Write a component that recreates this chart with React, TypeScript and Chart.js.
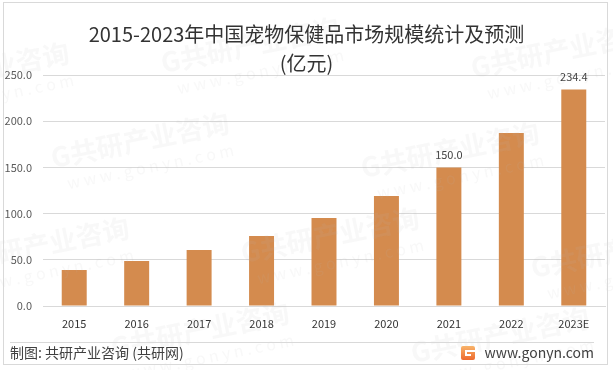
import React, { useEffect, useRef } from 'react';
import { Chart, registerables } from 'chart.js';

Chart.register(...registerables);

const categories = ['2015', '2016', '2017', '2018', '2019', '2020', '2021', '2022', '2023E'];
const marketSize = [39.0, 48.7, 60.6, 75.8, 95.2, 119.0, 150.0, 187.2, 234.4];
const labeledIndices = [6, 8];
const yMin = 0;
const yMax = 250;
const yStep = 50;
const titleLines = ['2015-2023年中国宠物保健品市场规模统计及预测', '(亿元)'];
const sourceText = '制图: 共研产业咨询 (共研网)';
const siteText = 'www.gonyn.com';
const watermarkMain = '共研产业咨询';
const watermarkSub = 'w w w . g o n y n . c o m';

const W = 613;
const H = 370;
const FONT = '"Noto Sans CJK SC", "Noto Sans", sans-serif';
const BAR_COLOR = '#D48B4E';
const GRID = '#d9d9d9';

const watermarkSpots: [number, number][] = [
  [250, 45], [560, 50], [-20, 70],
  [140, 140], [450, 150],
  [40, 245], [330, 235], [620, 250],
  [200, 330], [500, 335],
];

const decorPlugin = {
  id: 'decor',
  beforeDraw(chart: any) {
    const ctx = chart.ctx;
    ctx.save();
    ctx.fillStyle = '#ffffff';
    ctx.fillRect(0, 0, W, H);
    ctx.restore();
  },
  afterDatasetsDraw(chart: any) {
    const ctx = chart.ctx;
    const meta = chart.getDatasetMeta(0);
    ctx.save();
    ctx.font = `11px ${FONT}`;
    ctx.fillStyle = '#404040';
    ctx.textAlign = 'center';
    ctx.textBaseline = 'middle';
    labeledIndices.forEach((i) => {
      const el = meta.data[i];
      ctx.fillText(marketSize[i].toFixed(1), el.x, el.y - 13);
    });
    ctx.restore();
  },
  afterDraw(chart: any) {
    const ctx = chart.ctx;
    ctx.save();
    // watermarks
    watermarkSpots.forEach(([x, y]) => {
      ctx.save();
      ctx.translate(x, y);
      ctx.rotate(-0.2);
      ctx.fillStyle = 'rgba(190,190,190,0.1)';
      ctx.font = `bold 27px ${FONT}`;
      ctx.textAlign = 'center';
      ctx.textBaseline = 'middle';
      ctx.fillText('G' + watermarkMain, 0, 0);
      ctx.font = `16px ${FONT}`;
      ctx.fillText(watermarkSub, 5, 28);
      ctx.restore();
    });

    // title
    ctx.fillStyle = '#333333';
    ctx.textAlign = 'center';
    ctx.textBaseline = 'middle';
    ctx.font = `20px ${FONT}`;
    ctx.fillText(titleLines[0], W / 2, 34);
    ctx.fillText(titleLines[1], W / 2, 63);

    // frame
    ctx.strokeStyle = GRID;
    ctx.lineWidth = 1;
    ctx.strokeRect(3.5, 2.5, 604, 362);

    // separator
    ctx.beginPath();
    ctx.moveTo(10, 342.5);
    ctx.lineTo(594, 342.5);
    ctx.stroke();

    // footer
    ctx.fillStyle = '#404040';
    ctx.textAlign = 'left';
    ctx.font = `14px ${FONT}`;
    ctx.fillText(sourceText, 10, 353);

    ctx.textAlign = 'right';
    ctx.fillText(siteText, 594, 353);

    // logo
    const lx = 461, ly = 346, ls = 14;
    const g = ctx.createLinearGradient(lx, ly, lx, ly + ls);
    g.addColorStop(0, '#f8b46a');
    g.addColorStop(1, '#ee6a2e');
    ctx.fillStyle = g;
    ctx.beginPath();
    ctx.moveTo(lx + 2, ly);
    ctx.lineTo(lx + ls - 2, ly);
    ctx.quadraticCurveTo(lx + ls, ly, lx + ls, ly + 2);
    ctx.lineTo(lx + ls, ly + ls - 2);
    ctx.quadraticCurveTo(lx + ls, ly + ls, lx + ls - 2, ly + ls);
    ctx.lineTo(lx + 2, ly + ls);
    ctx.quadraticCurveTo(lx, ly + ls, lx, ly + ls - 2);
    ctx.lineTo(lx, ly + 2);
    ctx.quadraticCurveTo(lx, ly, lx + 2, ly);
    ctx.fill();
    ctx.fillStyle = '#ffffff';
    ctx.fillRect(lx + 4, ly + 4, ls - 4, 2);
    ctx.fillRect(lx + 4, ly + 4, 2, 6);
    ctx.fillRect(lx + 4, ly + 8, 6, 2);
    ctx.restore();
  },
};

export default function App() {
  const ref = useRef<HTMLCanvasElement | null>(null);
  useEffect(() => {
    document.body.style.margin = '0';
    const canvas = ref.current;
    if (!canvas) return;
    const chart = new Chart(canvas, {
      type: 'bar',
      data: {
        labels: categories,
        datasets: [
          {
            data: marketSize,
            backgroundColor: BAR_COLOR,
            borderWidth: 0,
            categoryPercentage: 1,
            barPercentage: 0.4,
          },
        ],
      },
      options: {
        responsive: false,
        animation: false,
        devicePixelRatio: 1,
        layout: { padding: { top: 75, right: 8, bottom: 0, left: 0 } },
        plugins: {
          legend: { display: false },
          title: { display: false },
          tooltip: { enabled: false },
        },
        scales: {
          x: {
            grid: { display: false, drawTicks: false },
            border: { display: true, color: GRID },
            ticks: {
              color: '#333333',
              font: { family: FONT, size: 11 },
              padding: 11,
              maxRotation: 0,
            },
            afterFit(scale: any) {
              scale.height = 64;
            },
          },
          y: {
            min: yMin,
            max: yMax,
            grid: { color: GRID, drawTicks: false },
            border: { display: false },
            ticks: {
              stepSize: yStep,
              color: '#595959',
              font: { family: FONT, size: 11 },
              padding: 11,
              callback: (v: any) => Number(v).toFixed(1),
            },
            afterFit(scale: any) {
              scale.width = 43;
            },
          },
        },
      },
      plugins: [decorPlugin],
    });
    return () => chart.destroy();
  }, []);
  return (
    <div style={{ position: 'absolute', left: 0, top: 0, width: W, height: H }}>
      <canvas ref={ref} width={W} height={H} style={{ width: W, height: H, display: 'block' }} />
    </div>
  );
}
